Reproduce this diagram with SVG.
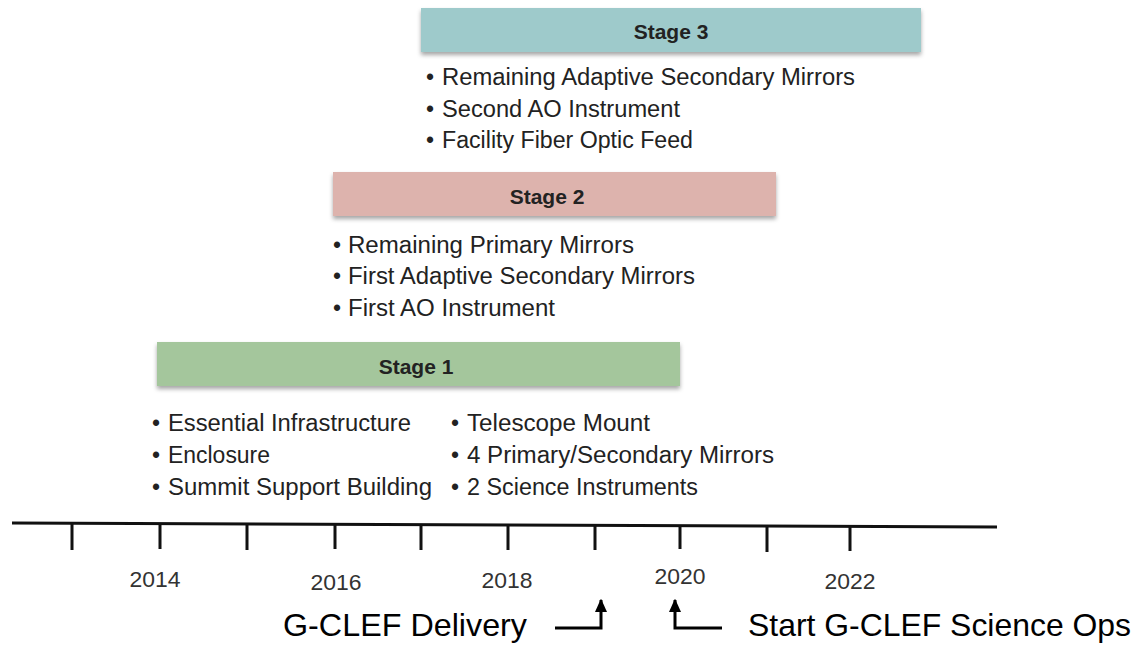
<svg xmlns="http://www.w3.org/2000/svg" width="1139" height="648" viewBox="0 0 1139 648">
<defs>
<filter id="sh" x="-5%" y="-20%" width="110%" height="160%"><feDropShadow dx="0" dy="3" stdDeviation="2" flood-color="#000" flood-opacity="0.35"/></filter>
<marker id="ah" viewBox="0 0 10 10" refX="9" refY="5" markerWidth="4.5" markerHeight="4.5" orient="auto" markerUnits="strokeWidth"><path d="M0,0.5 L10,5 L0,9.5 z" fill="#000"/></marker>
<style>
.t{font-family:"Liberation Sans",Arial,sans-serif;font-size:23px;fill:#222}
.h{font-family:"Liberation Sans",Arial,sans-serif;font-size:21px;font-weight:bold;fill:#222;text-anchor:middle}
.y{font-family:"Liberation Sans",Arial,sans-serif;font-size:22px;fill:#333;text-anchor:middle}
.b{font-family:"Liberation Sans",Arial,sans-serif;font-size:32px;fill:#000}
.ax{stroke:#111;stroke-width:3;fill:none}
.ar{stroke:#000;stroke-width:3;fill:none}
</style>
</defs>
<rect width="1139" height="648" fill="#fff"/>
<g id="stage3">
<rect x="421" y="8" width="500" height="44" fill="#9ecacb" filter="url(#sh)"/>
<text class="h" x="671" y="39">Stage 3</text>
<text class="t" x="426" y="85">•</text><text class="t" x="442" y="85" textLength="413" lengthAdjust="spacingAndGlyphs">Remaining Adaptive Secondary Mirrors</text>
<text class="t" x="426" y="117">•</text><text class="t" x="442" y="117" textLength="238" lengthAdjust="spacingAndGlyphs">Second AO Instrument</text>
<text class="t" x="426" y="148">•</text><text class="t" x="442" y="148" textLength="251" lengthAdjust="spacingAndGlyphs">Facility Fiber Optic Feed</text>
</g>
<g id="stage2">
<rect x="333" y="172" width="443" height="44" fill="#ddb3ad" filter="url(#sh)"/>
<text class="h" x="547" y="204">Stage 2</text>
<text class="t" x="333" y="253">•</text><text class="t" x="348" y="253" textLength="286" lengthAdjust="spacingAndGlyphs">Remaining Primary Mirrors</text>
<text class="t" x="333" y="284">•</text><text class="t" x="348" y="284" textLength="347" lengthAdjust="spacingAndGlyphs">First Adaptive Secondary Mirrors</text>
<text class="t" x="333" y="316">•</text><text class="t" x="348" y="316" textLength="207" lengthAdjust="spacingAndGlyphs">First AO Instrument</text>
</g>
<g id="stage1">
<rect x="157" y="342" width="523" height="44" fill="#a4c69c" filter="url(#sh)"/>
<text class="h" x="416" y="374">Stage 1</text>
<text class="t" x="152" y="431">•</text><text class="t" x="168" y="431" textLength="243" lengthAdjust="spacingAndGlyphs">Essential Infrastructure</text>
<text class="t" x="152" y="463">•</text><text class="t" x="168" y="463" textLength="102" lengthAdjust="spacingAndGlyphs">Enclosure</text>
<text class="t" x="152" y="495">•</text><text class="t" x="168" y="495" textLength="264" lengthAdjust="spacingAndGlyphs">Summit Support Building</text>
<text class="t" x="451" y="431">•</text><text class="t" x="467" y="431" textLength="183" lengthAdjust="spacingAndGlyphs">Telescope Mount</text>
<text class="t" x="451" y="463">•</text><text class="t" x="467" y="463" textLength="307" lengthAdjust="spacingAndGlyphs">4 Primary/Secondary Mirrors</text>
<text class="t" x="451" y="495">•</text><text class="t" x="467" y="495" textLength="231" lengthAdjust="spacingAndGlyphs">2 Science Instruments</text>
</g>
<g id="timeline">
<path class="ax" d="M12,523 L997,527"/>
<path class="ax" d="M72,524 V550 M160,524 V549 M247,525 V550 M335,525 V549 M421,525 V550 M508,526 V550 M595,526 V550 M680,526 V549 M767,527 V552 M850,527 V551"/>
<text class="y" x="155" y="587" textLength="51" lengthAdjust="spacingAndGlyphs">2014</text>
<text class="y" x="336" y="590" textLength="51" lengthAdjust="spacingAndGlyphs">2016</text>
<text class="y" x="507" y="588" textLength="51" lengthAdjust="spacingAndGlyphs">2018</text>
<text class="y" x="680" y="584" textLength="51" lengthAdjust="spacingAndGlyphs">2020</text>
<text class="y" x="850" y="589" textLength="51" lengthAdjust="spacingAndGlyphs">2022</text>
</g>
<g id="delivery">
<text class="b" x="283" y="636" textLength="244" lengthAdjust="spacingAndGlyphs">G-CLEF Delivery</text>
</g>
<g id="scienceops">
<text class="b" x="748" y="636" textLength="383" lengthAdjust="spacingAndGlyphs">Start G-CLEF Science Ops</text>
</g>
<g id="connectors">
<path class="ar" d="M555,628 H601 V600" marker-end="url(#ah)"/>
<path class="ar" d="M722,628 H675 V600" marker-end="url(#ah)"/>
</g>
</svg>
